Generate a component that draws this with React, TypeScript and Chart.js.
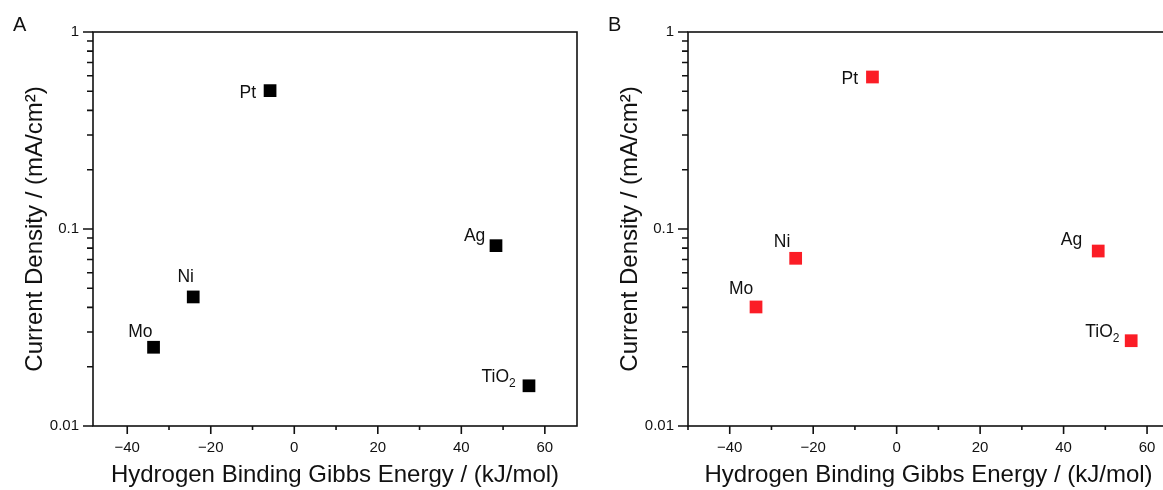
import React, { useEffect, useRef } from "react";
import { Chart, registerables } from "chart.js";

Chart.register(...registerables);

// ---------- data ----------
const MATERIALS = ["Mo", "Ni", "Pt", "Ag", "TiO2"];
const GIBBS_ENERGY = [-33.7, -24.2, -5.8, 48.3, 56.2]; // kJ/mol
const CURRENT_A = [0.0251, 0.0452, 0.504, 0.0823, 0.016]; // mA/cm2
const CURRENT_B = [0.0402, 0.071, 0.591, 0.0773, 0.0271]; // mA/cm2

const X_MAJOR_TICKS = [-40, -20, 0, 20, 40, 60];
const X_MINOR_TICKS = [-50, -30, -10, 10, 30, 50];
const Y_MAJOR_TICKS = [0.01, 0.1, 1];
const Y_TICK_LABELS = ["0.01", "0.1", "1"];
const Y_MINOR_MULTIPLIERS = [2, 3, 4, 5, 6, 7, 8, 9];

const X_TITLE = "Hydrogen Binding Gibbs Energy / (kJ/mol)";
const Y_TITLE = "Current Density / (mA/cm\u00B2)";

// ---------- label placement (style, px offsets from marker centre: right edge, baseline) ----------
const LABEL_OFFSETS_A = [
  [-1, -10.3],
  [0.7, -15],
  [-14, 7],
  [-10.7, -4.6],
  [-13.3, -3.6],
];
const LABEL_OFFSETS_B = [
  [-2.7, -12.7],
  [-5.3, -11.3],
  [-14.3, 6.6],
  [-16, -5.7],
  [-11.7, -3.6],
];

const FONT = '"Liberation Sans", Arial, Helvetica, sans-serif';
const INK = "#111111";

const fmtX = (v: number) => (v < 0 ? "\u2212" + Math.abs(v) : String(v));

const framePlugin = {
  id: "frame",
  beforeDatasetsDraw(chart: any) {
    const { ctx, chartArea, scales } = chart;
    const { left, right, top, bottom } = chartArea;
    const x = scales.x;
    const y = scales.y;
    ctx.save();
    ctx.strokeStyle = INK;
    ctx.lineWidth = 1.6;
    ctx.strokeRect(left, top, right - left, bottom - top);
    ctx.beginPath();
    const inX = (v: number) => v >= x.min - 1e-9 && v <= x.max + 1e-9;
    for (const v of X_MAJOR_TICKS) {
      if (!inX(v)) continue;
      const px = x.getPixelForValue(v);
      ctx.moveTo(px, bottom);
      ctx.lineTo(px, bottom + 8);
    }
    for (const v of X_MINOR_TICKS) {
      if (!inX(v)) continue;
      const px = x.getPixelForValue(v);
      ctx.moveTo(px, bottom);
      ctx.lineTo(px, bottom + 4);
    }
    for (const v of Y_MAJOR_TICKS) {
      const py = y.getPixelForValue(v);
      ctx.moveTo(left, py);
      ctx.lineTo(left - 10, py);
    }
    for (const d of Y_MAJOR_TICKS.slice(0, -1)) {
      for (const m of Y_MINOR_MULTIPLIERS) {
        const py = y.getPixelForValue(d * m);
        ctx.moveTo(left, py);
        ctx.lineTo(left - 6, py);
      }
    }
    ctx.stroke();
    ctx.restore();
  },
  afterDatasetsDraw(chart: any, _args: any, opts: any) {
    const { ctx, scales } = chart;
    const x = scales.x;
    const y = scales.y;
    const data = chart.data.datasets[0].data as { x: number; y: number }[];
    ctx.save();
    ctx.fillStyle = INK;
    ctx.textBaseline = "alphabetic";
    ctx.textAlign = "left";
    const mainFont = `17.5px ${FONT}`;
    const subFont = `12px ${FONT}`;
    MATERIALS.forEach((name, i) => {
      const p = data[i];
      const px = x.getPixelForValue(p.x);
      const py = y.getPixelForValue(p.y);
      const [dx, dy] = opts.offsets[i];
      const m = name.match(/^(.*?)(\d+)$/);
      const main = m ? m[1] : name;
      const sub = m ? m[2] : "";
      ctx.font = mainFont;
      const wMain = ctx.measureText(main).width;
      ctx.font = subFont;
      const wSub = sub ? ctx.measureText(sub).width : 0;
      const xr = px + dx;
      const base = py + dy;
      ctx.font = mainFont;
      ctx.fillText(main, xr - wMain - wSub, base);
      if (sub) {
        ctx.font = subFont;
        ctx.fillText(sub, xr - wSub, base + 4.5);
      }
    });
    ctx.restore();
  },
  afterDraw(chart: any, _args: any, opts: any) {
    const { ctx } = chart;
    ctx.save();
    ctx.fillStyle = INK;
    ctx.font = `20px ${FONT}`;
    ctx.textBaseline = "alphabetic";
    ctx.textAlign = "left";
    ctx.fillText(opts.letter, 13, 31);
    ctx.restore();
  },
};

type PanelProps = {
  letter: string;
  values: number[];
  color: string;
  offsets: number[][];
  xMin: number;
  xMax: number;
  width: number;
  left: number;
  padRight: number;
};

function Panel({ letter, values, color, offsets, xMin, xMax, width, left, padRight }: PanelProps) {
  const ref = useRef<HTMLCanvasElement | null>(null);
  useEffect(() => {
    if (!ref.current) return;
    const chart = new Chart(ref.current, {
      type: "scatter",
      data: {
        datasets: [
          {
            data: GIBBS_ENERGY.map((gx, i) => ({ x: gx, y: values[i] })),
            pointStyle: "rect",
            pointRadius: 9,
            pointHoverRadius: 9,
            backgroundColor: color,
            borderWidth: 0,
          },
        ],
      },
      options: {
        responsive: false,
        animation: false,
        devicePixelRatio: 1,
        events: [],
        layout: { autoPadding: false, padding: { left: 0, top: 32, right: padRight, bottom: 0 } },
        plugins: {
          legend: { display: false },
          tooltip: { enabled: false },
          frame: { letter, offsets },
        } as any,
        scales: {
          x: {
            type: "linear",
            min: xMin,
            max: xMax,
            afterFit: (s: any) => {
              s.height = 64;
            },
            grid: { display: false, drawTicks: true, tickLength: 8 },
            border: { display: false },
            ticks: {
              stepSize: 20,
              includeBounds: false,
              padding: 5,
              autoSkip: false,
              maxRotation: 0,
              color: INK,
              font: { family: FONT, size: 15 },
              callback: (v: any) => {
                const n = Math.round(Number(v));
                return X_MAJOR_TICKS.includes(n) ? fmtX(n) : "";
              },
            },
            title: {
              display: true,
              text: X_TITLE,
              color: INK,
              font: { family: FONT, size: 24 },
              padding: { top: 0, bottom: 0 },
            },
          } as any,
          y: {
            type: "logarithmic",
            min: 0.01,
            max: 1,
            afterFit: (s: any) => {
              s.width = 93;
            },
            grid: { display: false, drawTicks: true, tickLength: 10 },
            border: { display: false },
            ticks: {
              padding: 4,
              autoSkip: false,
              color: INK,
              font: { family: FONT, size: 15 },
              callback: (v: any) => {
                const lv = Math.log10(Number(v));
                const idx = Y_MAJOR_TICKS.findIndex((t) => Math.abs(Math.log10(t) - lv) < 1e-6);
                return idx >= 0 ? Y_TICK_LABELS[idx] : "";
              },
            },
            title: {
              display: true,
              text: Y_TITLE,
              color: INK,
              font: { family: FONT, size: 24 },
              padding: { top: 21, bottom: 0 },
            },
          } as any,
        },
      },
      plugins: [framePlugin as any],
    });
    return () => chart.destroy();
  }, []);
  return (
    <canvas
      ref={ref}
      width={width}
      height={490}
      style={{ position: "absolute", left, top: 0, width, height: 490 }}
    />
  );
}

export default function App() {
  return (
    <div
      style={{
        position: "absolute",
        left: 0,
        top: 0,
        width: 1163,
        height: 490,
        overflow: "hidden",
        background: "#ffffff",
      }}
    >
      <Panel
        letter="A"
        values={CURRENT_A}
        color="#000000"
        offsets={LABEL_OFFSETS_A}
        xMin={-48.2}
        xMax={67.7}
        width={595}
        left={0}
        padRight={18}
      />
      <Panel
        letter="B"
        values={CURRENT_B}
        color="#fb1d26"
        offsets={LABEL_OFFSETS_B}
        xMin={-50}
        xMax={65.26}
        width={580}
        left={595}
        padRight={6}
      />
    </div>
  );
}
